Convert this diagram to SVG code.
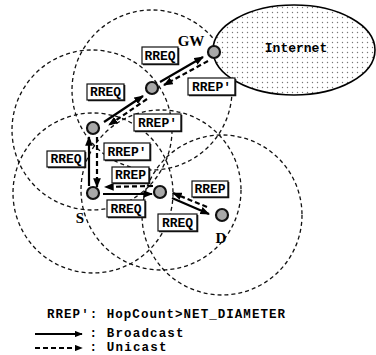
<svg xmlns="http://www.w3.org/2000/svg" width="376" height="355" viewBox="0 0 376 355">
<style>
.rng{fill:none;stroke:#111;stroke-width:1.3;stroke-dasharray:4 3}
.sol{fill:none;stroke:#000;stroke-width:2.2;marker-end:url(#ah)}
.dsh{fill:none;stroke:#000;stroke-width:2.2;stroke-dasharray:5 3;marker-end:url(#ah)}
.nd{fill:#a8a8a8;stroke:#111;stroke-width:2.2}
.bx{fill:#fff;stroke:#111;stroke-width:1.2}
.sh{fill:none;stroke:#111;stroke-width:1.6}
.lb{font-family:"Liberation Mono","Courier New",monospace;font-weight:bold;font-size:13px;fill:#000;text-anchor:middle}
.nl{font-family:"Liberation Serif","Times New Roman",serif;font-weight:bold;font-size:15px;fill:#000;text-anchor:middle}
.lg{font-family:"Liberation Mono","Courier New",monospace;font-weight:bold;font-size:12.5px;fill:#000}
</style>
<defs>
<marker id="ah" viewBox="0 0 10 8" refX="9" refY="4" markerWidth="4.4" markerHeight="3.5" orient="auto" markerUnits="strokeWidth">
<path d="M0,0 L10,4 L0,8 Z" fill="#000"/>
</marker>
<pattern id="dots" width="5" height="5" patternUnits="userSpaceOnUse">
<rect width="5" height="5" fill="#fff"/>
<circle cx="2.5" cy="2.5" r="0.7" fill="#777"/>
</pattern>
</defs>

<g id="ranges">
<circle class="rng" cx="152" cy="90" r="80"/>
<circle class="rng" cx="92" cy="130" r="80"/>
<circle class="rng" cx="93" cy="193" r="80"/>
<circle class="rng" cx="161" cy="190" r="80"/>
<circle class="rng" cx="222" cy="215" r="80"/>
</g>

<g id="internet">
<ellipse cx="294" cy="50" rx="81" ry="45" fill="url(#dots)" stroke="#000" stroke-width="1.6"/>
<text x="296" y="52" style="font-family:'Liberation Mono','Courier New',monospace;font-weight:bold;font-size:13px" text-anchor="middle">Internet</text>
</g>

<g id="connectors">
<path class="sol" d="M104,122 L143,96"/>
<path class="dsh" d="M147,99 L109,125"/>
<path class="sol" d="M160,82 L203,57"/>
<path class="dsh" d="M208,61 L164,85"/>
<path class="sol" d="M89,186 L89,137"/>
<path class="dsh" d="M97,137 L97,187"/>
<path class="sol" d="M103,194 L152,194"/>
<path class="dsh" d="M153,186 L105,187"/>
<path class="sol" d="M172,198 L209,214"/>
<path class="dsh" d="M207,207 L173,193"/>
</g>

<g id="node-gw">
<circle class="nd" cx="214" cy="52" r="6"/>
<text class="nl" x="191" y="46">GW</text>
</g>
<g id="node-n1"><circle class="nd" cx="152" cy="88" r="6"/></g>
<g id="node-n2"><circle class="nd" cx="93" cy="128" r="6"/></g>
<g id="node-s">
<circle class="nd" cx="93" cy="193" r="6"/>
<text class="nl" x="80" y="223">S</text>
</g>
<g id="node-n3"><circle class="nd" cx="160" cy="192" r="6"/></g>
<g id="node-d">
<circle class="nd" cx="222" cy="215" r="6"/>
<text class="nl" x="221" y="243">D</text>
</g>

<g id="labels">
<g><rect class="bx" x="142" y="47" width="36" height="17"/><path class="sh" d="M143,64.5 H178.5 V48"/><text class="lb" x="160" y="60">RREQ</text></g>
<g><rect class="bx" x="87" y="84" width="37" height="16"/><path class="sh" d="M88,100.5 H124.5 V85"/><text class="lb" x="105.5" y="96">RREQ</text></g>
<g><rect class="bx" x="188" y="78" width="47" height="17"/><path class="sh" d="M189,95.5 H235.5 V79"/><text class="lb" x="211.5" y="91">RREP'</text></g>
<g><rect class="bx" x="134" y="114" width="47" height="17"/><path class="sh" d="M135,131.5 H181.5 V115"/><text class="lb" x="157.5" y="127">RREP'</text></g>
<g><rect class="bx" x="104" y="143" width="46" height="17"/><path class="sh" d="M105,160.5 H150.5 V144"/><text class="lb" x="127" y="156">RREP'</text></g>
<g><rect class="bx" x="47" y="151" width="38" height="16"/><path class="sh" d="M48,167.5 H85.5 V152"/><text class="lb" x="66" y="163">RREQ</text></g>
<g><rect class="bx" x="112" y="167" width="37" height="16"/><path class="sh" d="M113,183.5 H149.5 V168"/><text class="lb" x="130.5" y="179">RREP</text></g>
<g><rect class="bx" x="107" y="200" width="38" height="17"/><path class="sh" d="M108,217.5 H145.5 V201"/><text class="lb" x="126" y="213">RREQ</text></g>
<g><rect class="bx" x="192" y="181" width="36" height="16"/><path class="sh" d="M193,197.5 H228.5 V182"/><text class="lb" x="210" y="193">RREP</text></g>
<g><rect class="bx" x="158" y="214" width="39" height="17"/><path class="sh" d="M159,231.5 H197.5 V215"/><text class="lb" x="177.5" y="227">RREQ</text></g>
</g>

<g id="legend">
<text class="lg" x="47" y="318" textLength="238" lengthAdjust="spacing">RREP': HopCount&gt;NET_DIAMETER</text>
<path d="M35,334 L82,334" fill="none" stroke="#000" stroke-width="1.8" marker-end="url(#ah)"/>
<text class="lg" x="89.5" y="337" textLength="94" lengthAdjust="spacing">: Broadcast</text>
<path d="M35,348 L82,348" fill="none" stroke="#000" stroke-width="1.8" stroke-dasharray="5 3" marker-end="url(#ah)"/>
<text class="lg" x="89.5" y="351" textLength="77" lengthAdjust="spacing">: Unicast</text>
</g>
</svg>
